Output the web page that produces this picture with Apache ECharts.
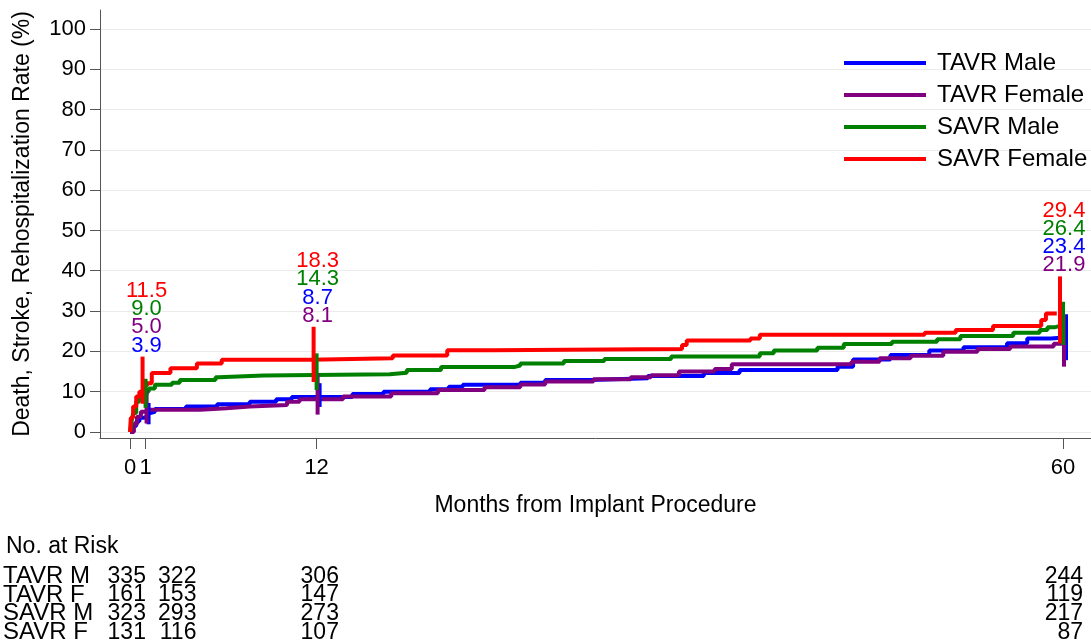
<!DOCTYPE html>
<html>
<head>
<meta charset="utf-8">
<title>Death, Stroke, Rehospitalization</title>
<script src="https://cdn.jsdelivr.net/npm/echarts@6/dist/echarts.min.js"></script>
<style>
  html, body { margin: 0; padding: 0; background: #fff; }
  #main { width: 1091px; height: 644px; }
</style>
</head>
<body>
<div id="main"></div>
<script>
// data
var seriesNames = ['TAVR Male', 'TAVR Female', 'SAVR Male', 'SAVR Female'];
var riskRows = ['TAVR M', 'TAVR F', 'SAVR M', 'SAVR F'];
var xTicks = [0, 1, 12, 60];
var yTicks = [0, 10, 20, 30, 40, 50, 60, 70, 80, 90, 100];
var ciMonths = [1, 12, 60];

// Kaplan-Meier style step curves: [month, rate %]
var tavrMale = [[0, 0], [0.2, 1.5], [0.4, 2.6], [0.6, 3.5], [0.9, 3.9], [1.1, 4.7], [1.3, 5.0], [1.6, 5.7],
  [3.6, 6.3], [5.6, 6.9], [7.7, 7.5], [9.4, 8.1], [10.4, 8.7], [14.3, 9.4], [16.3, 10.0], [19.3, 10.6],
  [20.5, 11.2], [21.4, 11.7], [25.1, 12.2], [26.7, 12.9], [29.6, 13.3], [33.3, 13.9], [36.9, 14.6],
  [39.2, 15.4], [45.5, 16.2], [46.5, 18.0], [48.9, 19.1], [51.4, 20.2], [53.6, 21.0], [56.4, 22.0],
  [57.7, 23.2], [59.2, 23.4], [59.9, 23.4]];
var tavrFemale = [[0, 0], [0.25, 2.0], [0.45, 3.8], [0.7, 5.0], [1.1, 5.5], [4.5, 5.9], [6.2, 6.3],
  [7.7, 6.7], [10.1, 7.5], [10.9, 8.1], [13.7, 8.8], [16.8, 9.6], [19.8, 10.4], [22.8, 11.1], [25.1, 11.8],
  [26.7, 12.5], [29.8, 13.1], [32.2, 13.6], [33.5, 14.1], [35.3, 15.0], [37.6, 15.6], [38.7, 16.8],
  [46.4, 17.4], [48.2, 18.3], [50.2, 18.9], [52.3, 19.9], [54.5, 20.6], [56.6, 21.2], [59.4, 21.9],
  [60.0, 21.9]];
var savrMale = [[0, 0], [0.1, 2.5], [0.2, 4.7], [0.4, 7.5], [0.6, 9.0], [1.05, 10.0], [1.2, 10.8],
  [1.6, 11.7], [2.7, 12.2], [3.2, 12.9], [5.5, 13.6], [5.7, 14.0], [8.6, 14.3], [16.7, 14.7], [17.8, 15.4],
  [20.0, 16.1], [24.7, 16.5], [25.1, 17.0], [27.9, 17.6], [30.5, 18.1], [34.8, 18.7], [40.5, 19.5],
  [41.4, 20.2], [44.2, 20.9], [45.9, 21.8], [49.0, 22.4], [51.9, 23.0], [53.4, 23.8], [56.8, 24.6],
  [58.5, 25.3], [59.0, 26.0], [59.5, 26.4], [59.95, 26.4]];
var savrFemale = [[0, 0], [0.05, 3.5], [0.2, 6.3], [0.4, 8.8], [0.6, 10.0], [0.8, 10.4], [0.95, 11.5],
  [1.1, 12.1], [1.4, 14.6], [2.6, 15.8], [4.3, 17.0], [5.9, 17.9], [11.6, 18.3], [16.9, 19.0], [20.4, 20.3],
  [23.3, 20.6], [35.5, 21.6], [35.8, 22.7], [39.9, 23.2], [40.5, 24.1], [51.1, 24.6], [53.1, 25.3],
  [55.5, 26.3], [58.6, 27.8], [58.9, 29.4], [59.6, 29.4]];

// estimates and confidence bars at 1, 12 and 60 months
var tavrMaleEst = [3.9, 8.7, 23.4];
var tavrMaleLow = [1.9, 6.2, 17.8];
var tavrMaleHigh = [7.2, 12.1, 29.2];
var tavrFemaleEst = [5.0, 8.1, 21.9];
var tavrFemaleLow = [2.1, 4.3, 16.2];
var tavrFemaleHigh = [10.4, 14.6, 29.0];
var savrMaleEst = [9.0, 14.3, 26.4];
var savrMaleLow = [6.0, 10.4, 21.6];
var savrMaleHigh = [13.2, 19.5, 32.3];
var savrFemaleEst = [11.5, 18.3, 29.4];
var savrFemaleLow = [7.0, 12.4, 22.0];
var savrFemaleHigh = [18.7, 26.1, 38.6];

// number at risk
var riskMonths = [0, 1, 12, 60];
var tavrMaleRisk = [335, 322, 306, 244];
var tavrFemaleRisk = [161, 153, 147, 119];
var savrMaleRisk = [323, 293, 273, 217];
var savrFemaleRisk = [131, 116, 107, 87];

var FONT = '"Liberation Sans", Arial, sans-serif';
var groups = [
  { curve: tavrMale, est: tavrMaleEst, low: tavrMaleLow, high: tavrMaleHigh, risk: tavrMaleRisk, color: '#0000ff', dodge: 3 },
  { curve: tavrFemale, est: tavrFemaleEst, low: tavrFemaleLow, high: tavrFemaleHigh, risk: tavrFemaleRisk, color: '#800080', dodge: 1 },
  { curve: savrMale, est: savrMaleEst, low: savrMaleLow, high: savrMaleHigh, risk: savrMaleRisk, color: '#008000', dodge: 0 },
  { curve: savrFemale, est: savrFemaleEst, low: savrFemaleLow, high: savrFemaleHigh, risk: savrFemaleRisk, color: '#ff0000', dodge: -3 }
];

// top of the highest bar at each time point, labels are stacked above it
var maxHigh = ciMonths.map(function (m, i) {
  return Math.max.apply(null, groups.map(function (g) { return g.high[i]; }));
});
function rankAt(g, i) {
  return groups.filter(function (o) { return o.est[i] > g.est[i]; }).length;
}
// risk numbers are right aligned; the first two columns sit side by side in the reference
var riskShift = [13, 48, 20, 20];

var myChart = echarts.init(document.getElementById('main'));
var series = [];

groups.forEach(function (g, k) {
  series.push({
    name: seriesNames[k],
    type: 'line',
    step: 'end',
    showSymbol: false,
    silent: true,
    z: 2,
    color: g.color,
    lineStyle: { width: 4, color: g.color },
    data: g.curve
  });
});

groups.forEach(function (g, k) {
  series.push({
    type: 'custom',
    z: 3,
    silent: true,
    encode: { x: 0, y: [1, 2] },
    data: ciMonths.map(function (m, i) {
      return [m, g.low[i], g.high[i], g.est[i], maxHigh[i], rankAt(g, i)];
    }),
    renderItem: function (params, api) {
      var t = api.value(0);
      var pLow = api.coord([t, api.value(1)]);
      var pHigh = api.coord([t, api.value(2)]);
      var pTop = api.coord([t, api.value(4)]);
      var x = pLow[0] + g.dodge;
      return {
        type: 'group',
        children: [{
          type: 'line',
          shape: { x1: x, y1: pLow[1], x2: x, y2: pHigh[1] },
          style: { stroke: g.color, lineWidth: 4 }
        }, {
          type: 'text',
          x: pTop[0] + 1,
          y: pTop[1] - 11 - (3 - api.value(5)) * 18.3,
          style: {
            text: api.value(3).toFixed(1),
            fill: g.color,
            font: '22px ' + FONT,
            align: 'center',
            verticalAlign: 'middle'
          }
        }]
      };
    }
  });
});

// number at risk table, drawn on the second grid
groups.forEach(function (g, k) {
  series.push({
    type: 'custom',
    xAxisIndex: 1,
    yAxisIndex: 1,
    silent: true,
    encode: { x: 0, y: 1 },
    data: riskMonths.map(function (m, i) { return [m, k, g.risk[i], i]; }),
    renderItem: function (params, api) {
      var p = api.coord([api.value(0), api.value(1)]);
      return {
        type: 'text',
        x: p[0] + riskShift[api.value(3)],
        y: p[1],
        style: {
          text: String(api.value(2)),
          fill: '#000',
          font: '23px ' + FONT,
          align: 'right',
          verticalAlign: 'middle'
        }
      };
    }
  });
});

var option = {
  animation: false,
  backgroundColor: '#fff',
  textStyle: { fontFamily: FONT },
  title: {
    text: 'No. at Risk',
    left: 6,
    top: 535,
    padding: 0,
    textStyle: { fontFamily: FONT, fontSize: 23, fontWeight: 'normal', color: '#000' }
  },
  legend: {
    data: seriesNames,
    orient: 'vertical',
    left: 844,
    top: 51,
    icon: 'rect',
    itemWidth: 82,
    itemHeight: 4,
    itemGap: 8,
    padding: 0,
    selectedMode: false,
    textStyle: { fontFamily: FONT, fontSize: 24, color: '#000', lineHeight: 24, padding: [0, 0, 0, 6] }
  },
  grid: [
    { left: 100, right: 0, top: 10, bottom: 206 },
    { left: 100, right: 0, top: 567, height: 78 }
  ],
  xAxis: [{
    type: 'value',
    min: -1.93,
    max: 61.8,
    name: 'Months from Implant Procedure',
    nameLocation: 'middle',
    nameGap: 56,
    nameTextStyle: { fontFamily: FONT, fontSize: 23, color: '#000' },
    axisLine: { onZero: false, lineStyle: { color: '#555', width: 1 } },
    axisTick: { length: 11, lineStyle: { color: '#555' }, customValues: xTicks },
    axisLabel: { customValues: xTicks, fontSize: 22, color: '#000', margin: 19, fontFamily: FONT },
    splitLine: { show: false }
  }, {
    type: 'value',
    gridIndex: 1,
    min: -1.93,
    max: 61.8,
    show: false
  }],
  yAxis: [{
    type: 'value',
    min: -1.5,
    max: 104.7,
    name: 'Death, Stroke, Rehospitalization Rate (%)',
    nameLocation: 'middle',
    nameGap: 66,
    nameTextStyle: { fontFamily: FONT, fontSize: 23, color: '#000' },
    axisLine: { show: true, onZero: false, lineStyle: { color: '#555', width: 1 } },
    axisTick: { show: true, length: 10, lineStyle: { color: '#555' }, customValues: yTicks },
    axisLabel: { customValues: yTicks, fontSize: 22, color: '#000', margin: 14, fontFamily: FONT },
    splitLine: { show: true, lineStyle: { color: '#ebebeb', width: 1 } }
  }, {
    type: 'category',
    gridIndex: 1,
    inverse: true,
    data: riskRows,
    axisLine: { show: false },
    axisTick: { show: false },
    splitLine: { show: false },
    axisLabel: { interval: 0, align: 'left', margin: 100, fontSize: 24, color: '#000', fontFamily: FONT }
  }],
  series: series
};

myChart.setOption(option);
window.onresize = function () {
  myChart.resize();
};
</script>
</body>
</html>
